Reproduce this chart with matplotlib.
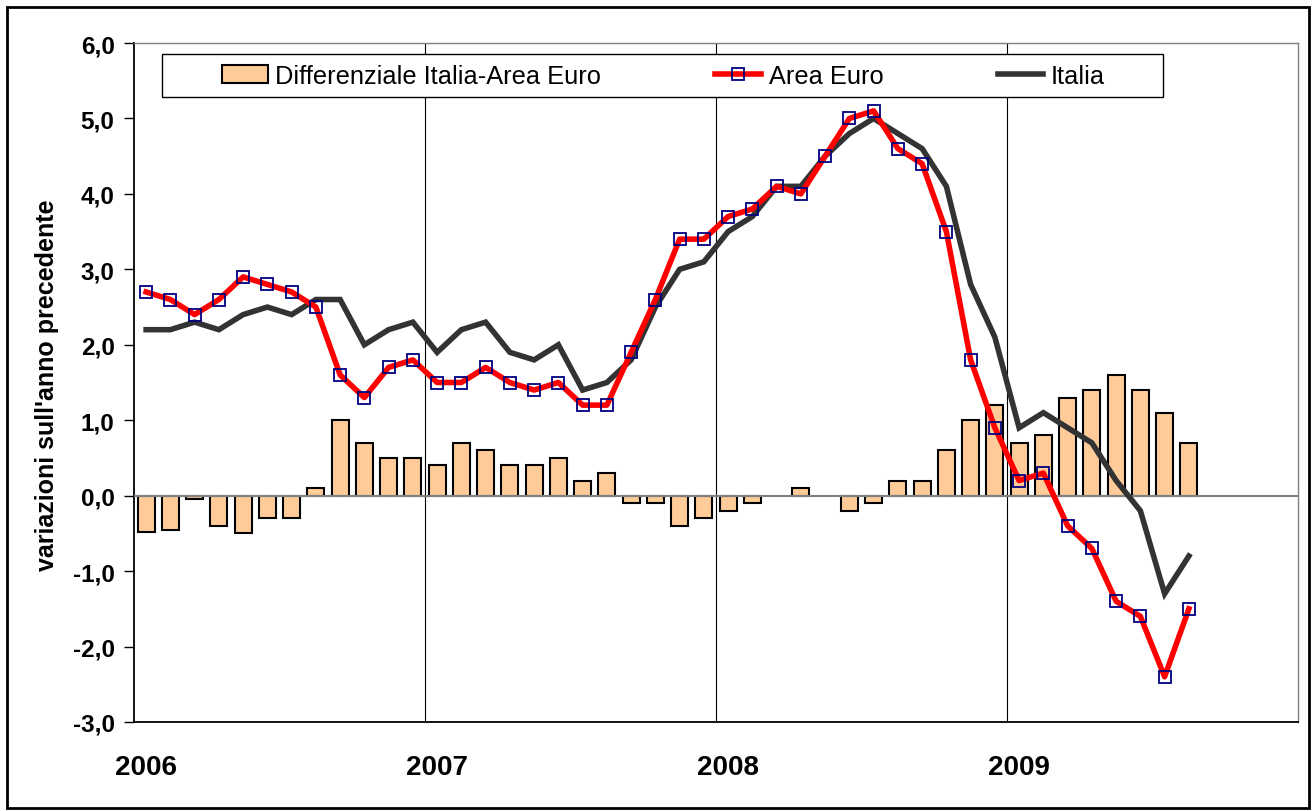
import numpy as np
import matplotlib
matplotlib.use("Agg")
import matplotlib.pyplot as plt
from matplotlib.patches import Rectangle, Patch
from matplotlib.lines import Line2D

plt.rcParams['font.family'] = ['Liberation Sans', 'DejaVu Sans']

# dati mensili gen 2006 - ago 2009
anni = ['2006', '2007', '2008', '2009']
area_euro = [2.7, 2.6, 2.4, 2.6, 2.9, 2.8, 2.7, 2.5, 1.6, 1.3, 1.7, 1.8,
             1.5, 1.5, 1.7, 1.5, 1.4, 1.5, 1.2, 1.2, 1.9, 2.6, 3.4, 3.4,
             3.7, 3.8, 4.1, 4.0, 4.5, 5.0, 5.1, 4.6, 4.4, 3.5, 1.8, 0.9,
             0.2, 0.3, -0.4, -0.7, -1.4, -1.6, -2.4, -1.5]
italia = [2.2, 2.2, 2.3, 2.2, 2.4, 2.5, 2.4, 2.6, 2.6, 2.0, 2.2, 2.3,
          1.9, 2.2, 2.3, 1.9, 1.8, 2.0, 1.4, 1.5, 1.8, 2.5, 3.0, 3.1,
          3.5, 3.7, 4.1, 4.1, 4.5, 4.8, 5.0, 4.8, 4.6, 4.1, 2.8, 2.1,
          0.9, 1.1, 0.9, 0.7, 0.2, -0.2, -1.3, -0.8]
differenziale = [-0.48, -0.45, -0.05, -0.4, -0.5, -0.3, -0.3, 0.1, 1.0, 0.7, 0.5, 0.5,
                 0.4, 0.7, 0.6, 0.4, 0.4, 0.5, 0.2, 0.3, -0.1, -0.1, -0.4, -0.3,
                 -0.2, -0.1, 0.0, 0.1, 0.0, -0.2, -0.1, 0.2, 0.2, 0.6, 1.0, 1.2,
                 0.7, 0.8, 1.3, 1.4, 1.6, 1.4, 1.1, 0.7]

col_barre = '#FFCC99'
col_euro = '#FF0000'
col_ita = '#333333'

x = np.arange(len(area_euro)) + 0.5
d = np.array(differenziale)

fig = plt.figure(figsize=(13.13, 8.12), dpi=100)
ax = fig.add_axes([134/1313, 1-723/812, 1164/1313, 679/812])

# cornice esterna
fig.patches.append(Rectangle((7/1313, 3/812), 1302/1313, 801/812, transform=fig.transFigure,
                             fill=False, lw=2, ec='black'))

for k in range(1, 4):
    ax.axvline(12*k, color='black', lw=0.8, zorder=1)

nz = d != 0
ax.bar(x[nz], d[nz], width=0.7, color=col_barre, edgecolor='black', lw=1.5, zorder=2)
ax.axhline(0, color='#808080', lw=1.5, zorder=3)

ax.plot(x, italia, color=col_ita, lw=4, zorder=4, solid_joinstyle='miter')
ax.plot(x, area_euro, color=col_euro, lw=4, zorder=5, marker='s', ms=9,
        mfc='none', mec='#000080', mew=1.3)

ax.set_xlim(0, 48)
ax.set_ylim(-3, 6)
ax.set_yticks(np.arange(-3, 7))
ax.set_yticklabels([f"{v:.1f}".replace('.', ',') for v in np.arange(-3, 7)],
                   fontsize=17.5, fontweight='bold')
ax.tick_params(axis='y', direction='out', length=7, width=1, pad=7)
ax.set_xticks([0.5, 12.5, 24.5, 36.5])
ax.set_xticklabels(anni, fontsize=20, fontweight='bold')
ax.tick_params(axis='x', length=0, pad=23)

for s in ['left', 'bottom']:
    ax.spines[s].set_color('black')
    ax.spines[s].set_linewidth(1.3)
for s in ['top', 'right']:
    ax.spines[s].set_color('#808080')
    ax.spines[s].set_linewidth(1.0)

fig.text(47/1313, 1-385/812, "variazioni sull'anno precedente", rotation=90,
         ha='center', va='center', fontsize=18, fontweight='bold')

# legenda
ax.add_patch(Rectangle((28/1164, (723-98)/679), 1001/1164, 43/679, transform=ax.transAxes,
                       facecolor='white', edgecolor='black', lw=1, zorder=6))
handles = [Patch(facecolor=col_barre, edgecolor='black', lw=1.5),
           Line2D([], [], color=col_euro, lw=4, marker='s', ms=9, mfc='none',
                  mec='#000080', mew=1.3),
           Line2D([], [], color=col_ita, lw=4)]
labels = ['Differenziale Italia-Area Euro', 'Area Euro', 'Italia']
leg = ax.legend(handles, labels, ncol=3, mode='expand', frameon=False,
                loc='center', bbox_to_anchor=(88/1164, (723-98)/679, 883/1164, 43/679),
                fontsize=18.3, handlelength=1.8, handletextpad=0.3, borderpad=0,
                borderaxespad=0)
leg.set_zorder(7)

fig.savefig('out.png', dpi=100)
